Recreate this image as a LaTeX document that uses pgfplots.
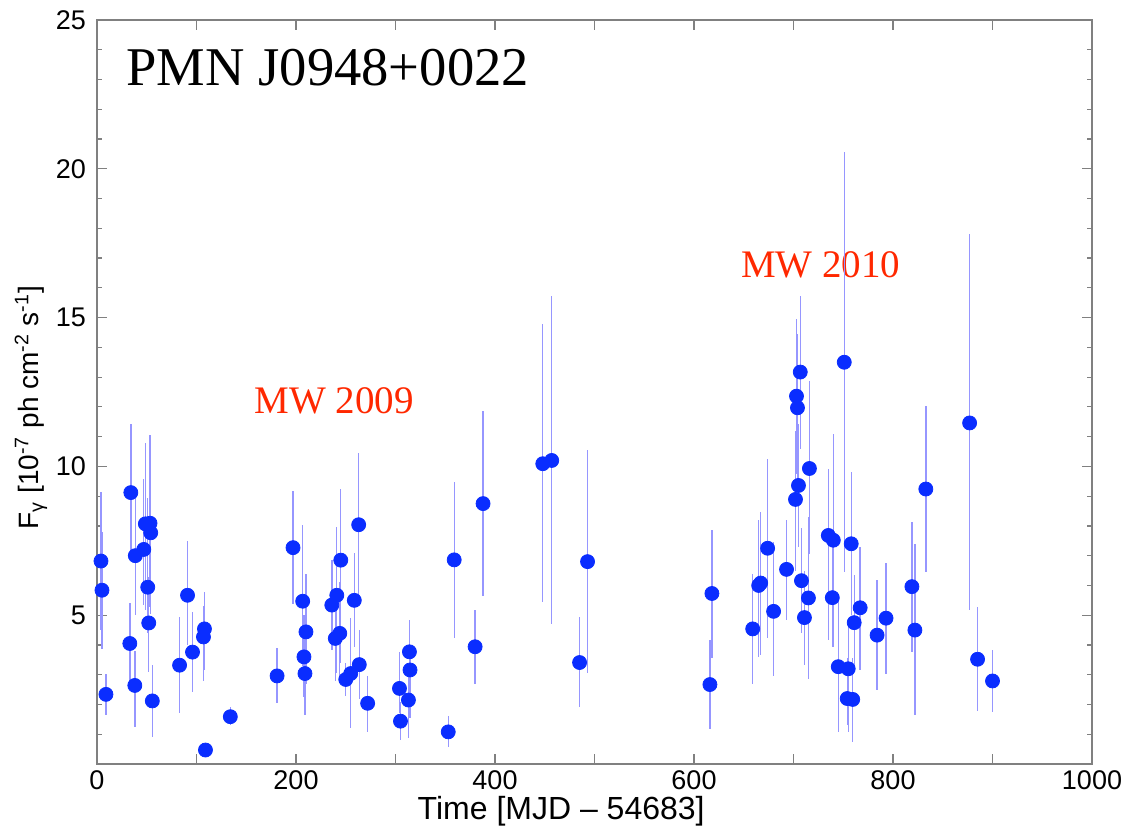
\documentclass[border=0pt]{standalone}
\usepackage{fontspec}
\setmainfont{Liberation Serif}
\setsansfont{Liberation Sans}
\usepackage{pgfplots}
\pgfplotsset{compat=1.18}
\usepackage{pgfplotstable}
\definecolor{dotblue}{RGB}{10,45,255}
\definecolor{barblue}{RGB}{150,150,255}
\definecolor{mwred}{RGB}{255,40,0}
\definecolor{axgray}{RGB}{128,128,128}

\pgfplotstableread{
x y ep em
4 6.82 2.31 2.32
5 5.84 1.96 1.99
9 2.34 0.68 0.70
33 4.05 1.36 1.29
34 9.12 2.31 2.22
38 2.64 1.16 1.39
38.5 7.00 1.97 2.00
47 7.21 2.37 1.88
48.6 8.07 2.73 2.90
51 5.94 2.99 1.54
52 4.74 1.55 1.64
53.3 8.09 2.95 2.82
54 7.77 2.40 2.72
55.6 2.12 1.22 1.20
83 3.32 1.62 1.62
91 5.67 1.82 1.67
96 3.76 1.34 1.33
107 4.27 1.03 1.47
108 4.54 1.24 1.39
109 0.47 0 0
134 1.59 0.31 0.29
181 2.96 0.93 0.92
197 7.27 1.92 1.90
206.7 5.47 2.55 2.17
208 3.60 1.40 1.35
209 3.04 0.96 1.40
210 4.44 1.94 1.74
236 5.34 1.51 1.51
239.5 4.22 1.58 1.42
241 5.67 2.29 2.62
244 4.39 1.71 1.59
245 6.85 2.40 3.45
250 2.84 0.54 0.54
255 3.04 1.86 1.84
258.6 5.50 1.59 1.56
263 8.04 2.40 2.54
263.6 3.34 1.16 1.14
272 2.04 0.91 0.96
304 2.54 1.21 0.84
305 1.44 0.65 0.64
313 2.15 1.05 1.28
314 3.77 1.06 1.07
314.6 3.16 0.84 1.62
353 1.08 0.52 0.51
359 6.86 2.61 2.61
380 3.94 1.23 1.24
388 8.75 3.10 3.11
448 10.09 4.68 4.64
457 10.20 5.51 5.50
485 3.41 1.53 1.51
493 6.80 3.74 3.74
616 2.67 1.51 1.51
618 5.73 2.14 2.18
659 4.54 1.84 1.84
665 6.00 2.20 2.40
667 6.08 2.38 2.42
674 7.25 3.01 3.03
680 5.13 2.33 2.18
693 6.54 1.65 1.71
702 8.89 2.31 2.39
703 12.36 2.60 2.60
704 11.97 2.49 2.49
705 9.36 2.08 2.07
706.8 13.17 2.57 2.57
708 6.16 1.76 1.76
711 4.92 1.58 1.60
715 5.58 2.72 2.71
716 9.93 2.93 2.88
735 7.68 2.24 3.52
739 5.59 1.81 1.65
740 7.52 3.58 3.58
745 3.27 2.23 2.19
751 13.50 7.05 7.05
754 2.20 1.36 0.90
755 3.20 1.46 2.12
758 7.40 2.40 2.40
759.5 2.17 1.39 1.42
761 4.75 1.59 1.60
767 5.25 2.05 2.10
784 4.33 1.84 1.85
793 4.90 1.86 1.86
819 5.96 2.17 2.19
822 4.50 2.88 2.86
833 9.24 2.78 2.79
877 11.46 6.34 6.27
885 3.52 1.74 1.73
900 2.79 1.04 1.04
}\datatable

\begin{document}
\begin{tikzpicture}
\begin{axis}[
  at={(0,0)}, anchor=south west,
  scale only axis, width=497.5pt, height=372pt,
  xmin=0, xmax=1000, ymin=0, ymax=25,
  xtick={0,100,...,1000},
  xticklabels={0,,200,,400,,600,,800,,1000},
  ytick={5,10,15,20,25},
  minor ytick={0,1,...,25},
  tick align=inside,
  major tick length=5pt, minor tick length=2.5pt,
  axis line style={axgray, line width=0.8pt},
  every tick/.style={axgray, line width=0.6pt},
  /pgf/number format/assume math mode=true,
  ticklabel style={font=\sffamily\fontsize{13.5}{16}\selectfont, text=black},
  yticklabel style={xshift=-2pt},
  xlabel={Time [MJD – 54683]},
  xlabel style={at={(axis description cs:0.4665,0)}, anchor=north, inner sep=0pt, yshift=-16pt, font=\sffamily\fontsize{16}{18}\selectfont},
  clip=false,
]
\node[font=\fontsize{19.5}{22}\selectfont, text=mwred, anchor=base] at (axis cs:238.2,11.77) {MW 2009};
\node[font=\fontsize{19.5}{22}\selectfont, text=mwred, anchor=base] at (axis cs:727.4,16.35) {MW 2010};
\node[font=\fontsize{27.3}{32}\selectfont, text=black, anchor=base] at (axis cs:232,22.79) {PMN J0948+0022};
\node[font=\sffamily\fontsize{14}{16}\selectfont, xshift=-33pt, rotate=90, anchor=center, inner sep=0pt]
  at (rel axis cs:0,0.479) {F\textsubscript{γ} [10\textsuperscript{-7} ph cm\textsuperscript{-2} s\textsuperscript{-1}]};
\addplot[only marks, mark=*, mark size=3.5pt,
  mark options={fill=dotblue, draw=dotblue},
  error bars/.cd, y dir=both, y explicit,
  error bar style={barblue, line width=0.7pt}, error mark=none]
  table[x=x, y=y, y error plus=ep, y error minus=em] {\datatable};
\end{axis}
\pgfresetboundingbox
\path[use as bounding box] (-48.5pt,-31.5pt) rectangle (513.5pt,382pt);
\end{tikzpicture}
\end{document}
